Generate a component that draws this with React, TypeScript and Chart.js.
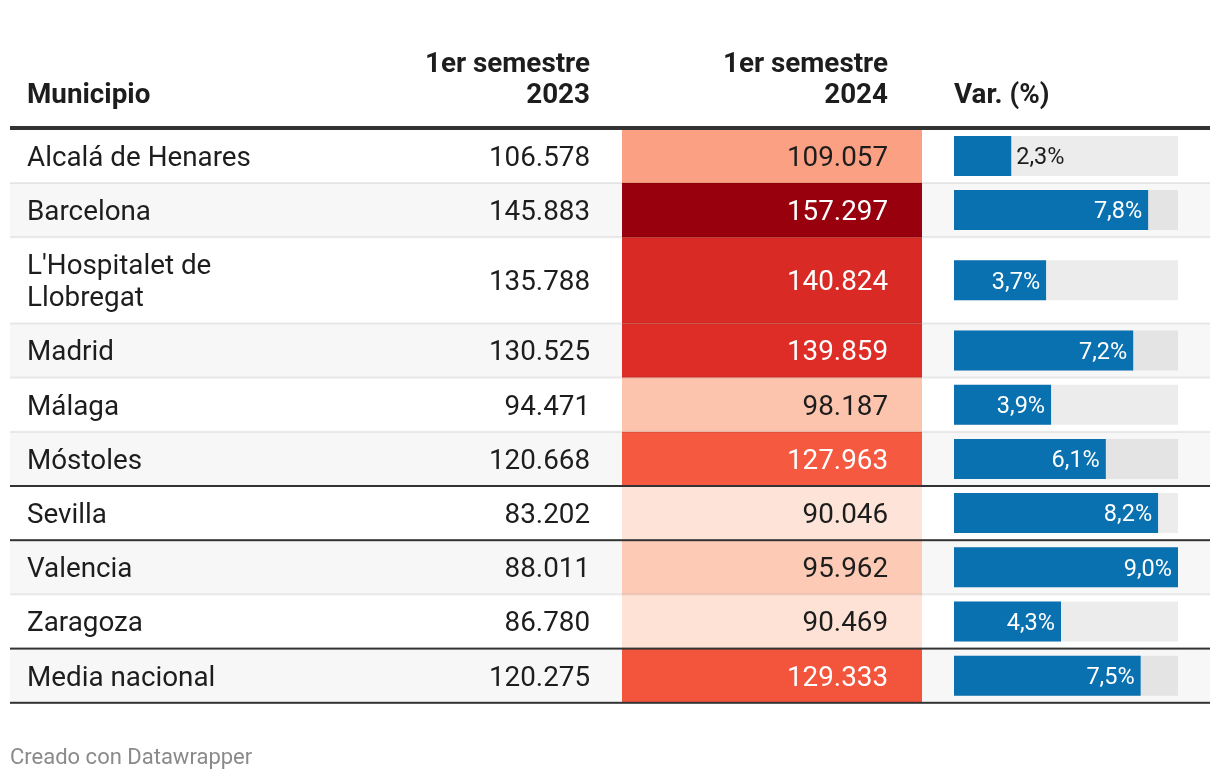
import React, { useEffect, useRef } from "react";
import { Chart, registerables } from "chart.js";

Chart.register(...registerables);

// ---------- data ----------
const municipios = [
  "Alcalá de Henares",
  "Barcelona",
  "L'Hospitalet de Llobregat",
  "Madrid",
  "Málaga",
  "Móstoles",
  "Sevilla",
  "Valencia",
  "Zaragoza",
  "Media nacional",
];
const semestre2023 = [106578, 145883, 135788, 130525, 94471, 120668, 83202, 88011, 86780, 120275];
const semestre2024 = [109057, 157297, 140824, 139859, 98187, 127963, 90046, 95962, 90469, 129333];
const variacion = [2.3, 7.8, 3.7, 7.2, 3.9, 6.1, 8.2, 9.0, 4.3, 7.5];
const headerMunicipio = ["Municipio"];
const header2023 = ["1er semestre", "2023"];
const header2024 = ["1er semestre", "2024"];
const headerVar = ["Var. (%)"];
const footerText = "Creado con Datawrapper";
const strongRuleAfter = [5, 6, 8, 9];

// heat colour scale (value -> colour)
const heatStops: [number, string][] = [
  [90000, "#fee4d8"],
  [96000, "#fccab5"],
  [109000, "#fca083"],
  [128500, "#f5573e"],
  [140000, "#dd2c26"],
  [157300, "#99000d"],
];

// ---------- layout / style ----------
const W = 1220;
const H = 780;
const FONT = "Roboto, 'Noto Sans', sans-serif";
const BODY_SIZE = 27.8;
const LABEL_SIZE = 23.5;
const FOOT_SIZE = 22;
const TEXT = "#1d1d1d";
const TABLE_L = 10;
const TABLE_R = 1210;
const NAME_X = 27;
const NAME_WRAP = 250;
const C2023_R = 590;
const HEAT_L = 622;
const HEAT_R = 922;
const C2024_R = 888;
const VAR_L = 954;
const VAR_W = 224;
const HEADER_RULE_Y = 128;
const ROWS_TOP = 128.8;
const ROW_BASE = 54.2;
const LINE_H = 32;
const BAR_H = 40;
const BLUE = "#0a71b0";

function hexToRgb(h: string) {
  const n = parseInt(h.slice(1), 16);
  return [(n >> 16) & 255, (n >> 8) & 255, n & 255];
}
function heatColor(v: number): string {
  if (v <= heatStops[0][0]) return heatStops[0][1];
  for (let i = 1; i < heatStops.length; i++) {
    if (v <= heatStops[i][0]) {
      const [a, ca] = heatStops[i - 1];
      const [b, cb] = heatStops[i];
      const t = (v - a) / (b - a);
      const A = hexToRgb(ca);
      const B = hexToRgb(cb);
      const c = A.map((x, k) => Math.round(x + (B[k] - x) * t));
      return `rgb(${c[0]},${c[1]},${c[2]})`;
    }
  }
  return heatStops[heatStops.length - 1][1];
}
function luminance(col: string): number {
  let rgb: number[];
  if (col.startsWith("#")) rgb = hexToRgb(col);
  else rgb = col.replace(/[^\d,]/g, "").split(",").map(Number);
  const lin = rgb.map((c) => {
    const s = c / 255;
    return s <= 0.03928 ? s / 12.92 : Math.pow((s + 0.055) / 1.055, 2.4);
  });
  return 0.2126 * lin[0] + 0.7152 * lin[1] + 0.0722 * lin[2];
}
const fmtInt = (n: number) => String(n).replace(/\B(?=(\d{3})+(?!\d))/g, ".");
const fmtPct = (v: number) => v.toFixed(1).replace(".", ",") + "%";

function wrapText(ctx: CanvasRenderingContext2D, text: string, maxW: number): string[] {
  const words = text.split(" ");
  const lines: string[] = [];
  let cur = "";
  for (const w of words) {
    const test = cur ? cur + " " + w : w;
    if (ctx.measureText(test).width > maxW && cur) {
      lines.push(cur);
      cur = w;
    } else cur = test;
  }
  if (cur) lines.push(cur);
  return lines;
}

export default function App() {
  const ref = useRef<HTMLCanvasElement>(null);

  useEffect(() => {
    const canvas = ref.current!;
    const mctx = document.createElement("canvas").getContext("2d")!;
    mctx.font = `${BODY_SIZE}px ${FONT}`;

    let y = ROWS_TOP;
    const rows = municipios.map((name) => {
      const lines = wrapText(mctx, name, NAME_WRAP);
      const h = ROW_BASE + (lines.length - 1) * LINE_H;
      const r = { lines, top: y, bottom: y + h, center: y + h / 2 };
      y += h;
      return r;
    });

    const varMax = Math.max(...variacion);
    const pxPerUnit = VAR_W / varMax;
    const xvMin = -VAR_L / pxPerUnit;
    const xvMax = (W - VAR_L) / pxPerUnit;

    const datasets: any[] = [
      {
        label: "Var. (%)",
        data: variacion.map((v, i) => ({ x: v, y: rows[i].center })),
        xAxisID: "xv",
        backgroundColor: BLUE,
        barThickness: BAR_H,
        grouped: false,
        inflateAmount: 0,
        order: 0,
      },
      {
        label: "track",
        data: variacion.map((_, i) => ({ x: [0, varMax], y: rows[i].center })),
        xAxisID: "xv",
        backgroundColor: "rgba(0,0,0,0.075)",
        barThickness: BAR_H,
        grouped: false,
        inflateAmount: 0,
        order: 1,
      },
      ...rows.map((r, i) => ({
        label: "heat" + i,
        data: [{ x: [HEAT_L, HEAT_R], y: r.center }],
        xAxisID: "x",
        backgroundColor: heatColor(semestre2024[i]),
        barThickness: r.bottom - r.top,
        grouped: false,
        inflateAmount: 0,
        order: 2,
      })),
    ];

    const tablePlugin = {
      id: "tablePlugin",
      beforeDatasetsDraw(chart: any) {
        const ctx: CanvasRenderingContext2D = chart.ctx;
        const ys = chart.scales.y;
        ctx.save();
        rows.forEach((r, i) => {
          if (i % 2 === 1) {
            const t = ys.getPixelForValue(r.top);
            const b = ys.getPixelForValue(r.bottom);
            ctx.fillStyle = "#f7f7f7";
            ctx.fillRect(TABLE_L, t, TABLE_R - TABLE_L, b - t);
          }
        });
        ctx.restore();
      },
      afterDatasetsDraw(chart: any) {
        const ctx: CanvasRenderingContext2D = chart.ctx;
        const ys = chart.scales.y;
        ctx.save();

        // rules
        rows.forEach((r, i) => {
          const yy = ys.getPixelForValue(r.bottom);
          const strong = strongRuleAfter.includes(i);
          ctx.fillStyle = strong ? "#333333" : "rgba(0,0,0,0.08)";
          ctx.fillRect(TABLE_L, yy - 1, TABLE_R - TABLE_L, 2);
        });
        ctx.fillStyle = "#333333";
        ctx.fillRect(TABLE_L, ys.getPixelForValue(HEADER_RULE_Y) - 2, TABLE_R - TABLE_L, 4);

        // header
        const hb = ys.getPixelForValue(103);
        ctx.font = `bold ${BODY_SIZE}px ${FONT}`;
        ctx.fillStyle = TEXT;
        ctx.textBaseline = "alphabetic";
        const drawHeader = (lines: string[], x: number, align: CanvasTextAlign) => {
          ctx.textAlign = align;
          lines.forEach((l, k) => {
            ctx.fillText(l, x, hb - (lines.length - 1 - k) * 31);
          });
        };
        drawHeader(headerMunicipio, NAME_X, "left");
        drawHeader(header2023, C2023_R, "right");
        drawHeader(header2024, C2024_R, "right");
        drawHeader(headerVar, VAR_L, "left");

        // body
        ctx.font = `${BODY_SIZE}px ${FONT}`;
        const off = BODY_SIZE * 0.355;
        rows.forEach((r, i) => {
          const cy = ys.getPixelForValue(r.center);
          ctx.fillStyle = TEXT;
          ctx.textAlign = "left";
          r.lines.forEach((l, k) => {
            const ly = cy + (k - (r.lines.length - 1) / 2) * LINE_H;
            ctx.fillText(l, NAME_X, ly + off);
          });
          ctx.textAlign = "right";
          ctx.fillText(fmtInt(semestre2023[i]), C2023_R, cy + off);
          const hc = heatColor(semestre2024[i]);
          ctx.fillStyle = luminance(hc) < 0.38 ? "#ffffff" : TEXT;
          ctx.fillText(fmtInt(semestre2024[i]), C2024_R, cy + off);
        });

        // var labels
        const meta = chart.getDatasetMeta(0);
        ctx.font = `${LABEL_SIZE}px ${FONT}`;
        const loff = LABEL_SIZE * 0.355;
        meta.data.forEach((el: any, i: number) => {
          const txt = fmtPct(variacion[i]);
          const w = ctx.measureText(txt).width;
          const len = el.x - el.base;
          if (len > w + 14) {
            ctx.fillStyle = "#ffffff";
            ctx.textAlign = "right";
            ctx.fillText(txt, el.x - 6, el.y + loff);
          } else {
            ctx.fillStyle = TEXT;
            ctx.textAlign = "left";
            ctx.fillText(txt, el.x + 5, el.y + loff);
          }
        });

        // footer
        ctx.font = `${FOOT_SIZE}px ${FONT}`;
        ctx.fillStyle = "#8a8a8a";
        ctx.textAlign = "left";
        ctx.fillText(footerText, TABLE_L, ys.getPixelForValue(764));

        ctx.restore();
      },
    };

    const chart = new Chart(canvas, {
      type: "bar",
      data: { datasets },
      options: {
        indexAxis: "y",
        animation: false,
        responsive: false,
        devicePixelRatio: 1,
        events: [],
        layout: { padding: 0 },
        scales: {
          x: { type: "linear", min: 0, max: W, display: false, offset: false },
          xv: { type: "linear", min: xvMin, max: xvMax, display: false, offset: false },
          y: { type: "linear", min: 0, max: H, reverse: true, display: false, offset: false },
        },
        plugins: {
          legend: { display: false },
          tooltip: { enabled: false },
          title: { display: false },
        },
      } as any,
      plugins: [tablePlugin],
    });
    return () => chart.destroy();
  }, []);

  return (
    <div style={{ position: "absolute", left: 0, top: 0, width: W, height: H, background: "#ffffff" }}>
      <canvas ref={ref} width={W} height={H} style={{ display: "block", width: W, height: H }} />
    </div>
  );
}
